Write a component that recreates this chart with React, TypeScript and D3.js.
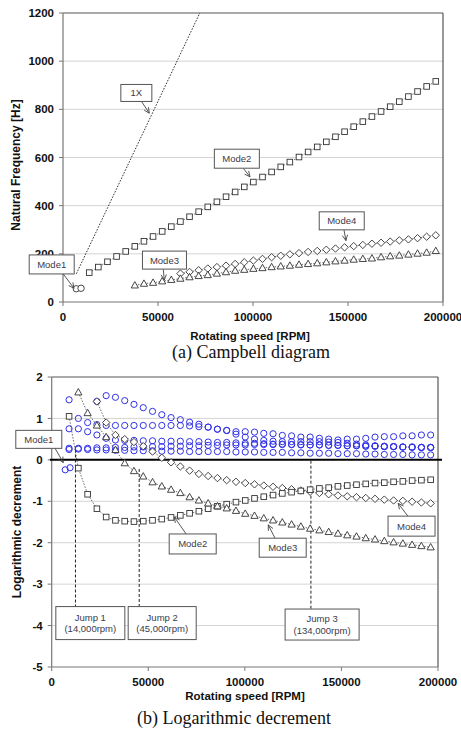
import * as d3 from "d3"

// rotor speed grid (rpm) shared by the computed points
const speeds = [9000, 13800, 18600, 23400, 28200, 33000, 37800, 42600, 47400, 52200, 57000, 61800, 66600, 71400, 76200, 81000, 85800, 90600, 95400, 100200, 105000, 109800, 114600, 119400, 124200, 129000, 133800, 138600, 143400, 148200, 153000, 157800, 162600, 167400, 172200, 177000, 181800, 186600, 191400, 196200]

// (a) Campbell diagram, natural frequency [Hz]
const mode1Speeds = [7000, 9500]
const mode1Freq = [55, 57]
const mode2Freq = [122, 145, 167, 189, 210, 231, 252, 272, 293, 313, 334, 354, 375, 395, 416, 437, 457, 478, 498, 519, 540, 561, 581, 602, 623, 644, 665, 686, 707, 728, 749, 770, 791, 811, 832, 853, 874, 895, 916]
const mode3Freq = [69, 76, 80, 86, 92, 97, 103, 108, 112, 118, 124, 130, 134, 138, 141, 145, 148, 151, 155, 158, 161, 165, 169, 172, 176, 179, 181, 186, 190, 193, 197, 201, 205, 212]
const mode4Freq = [118, 125, 132, 139, 145, 151, 158, 165, 172, 179, 186, 192, 198, 203, 208, 212, 217, 222, 227, 232, 237, 242, 246, 251, 256, 260, 265, 271, 277]
const oneXSpeeds = [7000, 72000]
const oneXFreq = [117, 1200]

// (b) logarithmic decrement
const mode1Dec = [-0.24, -0.19]
const mode2Dec = [1.05, -0.2, -0.83, -1.18, -1.38, -1.46, -1.48, -1.49, -1.48, -1.46, -1.43, -1.39, -1.34, -1.29, -1.24, -1.18, -1.12, -1.07, -1.02, -0.98, -0.93, -0.89, -0.85, -0.81, -0.78, -0.75, -0.72, -0.69, -0.67, -0.64, -0.62, -0.6, -0.58, -0.56, -0.55, -0.53, -0.52, -0.5, -0.49, -0.48]
const mode3Dec = [1.63, 1.13, 0.83, 0.55, 0.24, -0.08, -0.27, -0.4, -0.54, -0.64, -0.72, -0.8, -0.9, -0.98, -1.05, -1.12, -1.17, -1.23, -1.3, -1.35, -1.41, -1.46, -1.51, -1.56, -1.61, -1.66, -1.7, -1.74, -1.78, -1.82, -1.85, -1.89, -1.92, -1.96, -1.99, -2.02, -2.05, -2.08, -2.11]
const mode4Dec = [1.41, 0.9, 0.6, 0.5, 0.43, 0.33, 0.2, 0.05, -0.06, -0.16, -0.26, -0.34, -0.39, -0.44, -0.49, -0.53, -0.56, -0.59, -0.62, -0.65, -0.68, -0.71, -0.74, -0.77, -0.8, -0.83, -0.86, -0.88, -0.9, -0.92, -0.94, -0.96, -0.98, -0.99, -1.01, -1.03, -1.05]
// stable (blue) modes
const stableA = [1.41, 1.55, 1.51, 1.43, 1.34, 1.26, 1.17, 1.09, 1.02, 0.97, 0.91, 0.86, 0.79, 0.74, 0.71, 0.68, 0.68, 0.67, 0.64, 0.63, 0.59, 0.58, 0.55, 0.55, 0.52, 0.5, 0.48, 0.5, 0.5, 0.52, 0.55, 0.56, 0.56, 0.58, 0.58, 0.6, 0.6]
const stableB = [1.45, 1.0, 0.9, 0.85, 0.83, 0.83, 0.83, 0.83, 0.83, 0.83, 0.83, 0.83, 0.83, 0.82, 0.8, 0.79, 0.74, 0.71, 0.62, 0.55, 0.5, 0.47, 0.45, 0.44, 0.44, 0.44, 0.44, 0.44, 0.43, 0.42, 0.4, 0.38, 0.36, 0.34, 0.33, 0.32, 0.31, 0.3, 0.3, 0.3]
const stableC = [0.75, 0.75, 0.68, 0.6, 0.52, 0.48, 0.47, 0.47, 0.46, 0.46, 0.45, 0.45, 0.45, 0.44, 0.44, 0.43, 0.42, 0.42, 0.41, 0.4, 0.4, 0.39, 0.38, 0.38, 0.37, 0.37, 0.36, 0.36, 0.35, 0.35, 0.34, 0.34, 0.33, 0.33, 0.32, 0.32, 0.31, 0.31, 0.3, 0.3]
const stableD = [0.28, 0.28, 0.28, 0.29, 0.29, 0.3, 0.3, 0.31, 0.31, 0.32, 0.32, 0.33, 0.33, 0.34, 0.34, 0.35, 0.35, 0.36, 0.36, 0.36, 0.37, 0.37, 0.37, 0.37, 0.37, 0.36, 0.36, 0.36, 0.35, 0.35, 0.34, 0.34, 0.33, 0.33, 0.32, 0.32, 0.31, 0.31, 0.3, 0.3]
const stableE = [0.25, 0.26, 0.25, 0.24, 0.24, 0.23, 0.23, 0.22, 0.22, 0.22, 0.21, 0.21, 0.21, 0.2, 0.2, 0.2, 0.2, 0.2, 0.19, 0.19, 0.19, 0.18, 0.18, 0.18, 0.17, 0.17, 0.16, 0.16, 0.16, 0.15, 0.15, 0.15, 0.14, 0.14, 0.13, 0.13, 0.13, 0.12, 0.12, 0.12]

const jumpSpeeds = [12300, 45300, 134200]
const jumpTops = [0.25, -0.22, -0.02]
const jumpTitles = ["Jump  1", "Jump  2", "Jump  3"]
const jumpRpm = ["(14,000rpm)", "(45,000rpm)", "(134,000rpm)"]

const freqTicks = [0, 200, 400, 600, 800, 1000, 1200]
const decTicks = [2, 1, 0, -1, -2, -3, -4, -5]
const speedTicks = [0, 50000, 100000, 150000, 200000]

const SANS = "'Liberation Sans', Arial, sans-serif"
const SERIF = "'Liberation Serif', 'Times New Roman', serif"
const BLUE = "#3030e8"
const INK = "#333"

type Pt = [number, number]
const from = (start: number, vals: number[]): Pt[] => vals.map((v, i) => [speeds[start + i], v])

function Marker({ shape, x, y }: { shape: string; x: number; y: number }) {
  if (shape === "square") return <rect x={x - 2.8} y={y - 2.8} width={5.6} height={5.6} fill="#fff" stroke={INK} strokeWidth={0.9} />
  if (shape === "triangle") return <path d={`M${x},${y - 3.8}L${x + 3.6},${y + 2.6}L${x - 3.6},${y + 2.6}Z`} fill="#fff" stroke={INK} strokeWidth={0.9} />
  if (shape === "diamond") return <path d={`M${x},${y - 3.7}L${x + 3.7},${y}L${x},${y + 3.7}L${x - 3.7},${y}Z`} fill="#fff" stroke={INK} strokeWidth={0.9} />
  if (shape === "ocircle") return <circle cx={x} cy={y} r={3.2} fill="#fff" stroke={INK} strokeWidth={0.9} />
  return <circle cx={x} cy={y} r={3.1} fill="none" stroke={BLUE} strokeWidth={1} />
}

function Series({ pts, shape, xs, ys, line }: { pts: Pt[]; shape: string; xs: any; ys: any; line?: boolean }) {
  const gen = d3.line<Pt>().x(d => xs(d[0])).y(d => ys(d[1]))
  return (
    <g>
      {line && <path d={gen(pts) || ""} fill="none" stroke="#444" strokeWidth={0.8} strokeDasharray="1.5,1.5" />}
      {pts.map((d, i) => <Marker key={i} shape={shape} x={xs(d[0])} y={ys(d[1])} />)}
    </g>
  )
}

function Arrow({ x1, y1, x2, y2 }: { x1: number; y1: number; x2: number; y2: number }) {
  const a = Math.atan2(y2 - y1, x2 - x1)
  const L = 6, s = 0.45
  const p1 = [x2 - L * Math.cos(a - s), y2 - L * Math.sin(a - s)]
  const p2 = [x2 - L * Math.cos(a + s), y2 - L * Math.sin(a + s)]
  return (
    <g stroke="#444" strokeWidth={0.9} fill="none">
      <line x1={x1} y1={y1} x2={x2} y2={y2} />
      <path d={`M${p1[0]},${p1[1]}L${x2},${y2}L${p2[0]},${p2[1]}`} />
    </g>
  )
}

function Label({ cx, cy, w, h, lines, size = 9.5 }: { cx: number; cy: number; w: number; h: number; lines: string[]; size?: number }) {
  const lh = size * 1.2
  return (
    <g>
      <rect x={cx - w / 2} y={cy - h / 2} width={w} height={h} fill="#fff" stroke="#555" strokeWidth={1} />
      {lines.map((t, i) => (
        <text key={i} x={cx} y={cy + (i - (lines.length - 1) / 2) * lh} dy="0.36em" textAnchor="middle" fontSize={size} fontFamily={SANS} fill="#3a3a4a">{t}</text>
      ))}
    </g>
  )
}

function Frame({ xs, ys, yTicks, gridVals, left, right, top, bottom }: any) {
  return (
    <g fontFamily={SANS} fontWeight="bold" fontSize={11.5} fill="#111">
      {gridVals.map((v: number) => <line key={v} x1={left} x2={right} y1={ys(v)} y2={ys(v)} stroke="#d4d4d4" strokeWidth={1} />)}
      <line x1={left} x2={right} y1={top} y2={top} stroke="#555" strokeWidth={1.2} />
      <line x1={right} x2={right} y1={top} y2={bottom} stroke="#555" strokeWidth={1.2} />
      <line x1={left} x2={left} y1={top} y2={bottom} stroke="#777" strokeWidth={1.2} />
      <line x1={left} x2={right} y1={bottom} y2={bottom} stroke="#777" strokeWidth={1.2} />
      {yTicks.map((v: number) => (
        <g key={v}>
          <line x1={left - 4} x2={left} y1={ys(v)} y2={ys(v)} stroke="#777" />
          <text x={left - 9} y={ys(v)} dy="0.36em" textAnchor="end">{v}</text>
        </g>
      ))}
      {speedTicks.map(v => (
        <g key={v}>
          <line x1={xs(v)} x2={xs(v)} y1={bottom} y2={bottom + 4} stroke="#777" />
          <text x={xs(v)} y={bottom + 18.5} textAnchor="middle">{v}</text>
        </g>
      ))}
    </g>
  )
}

export default function App() {
  // (a) Campbell diagram
  const ax = d3.scaleLinear().domain([0, 200000]).range([63, 443])
  const ay = d3.scaleLinear().domain([0, 1200]).range([302, 13])
  // (b) log decrement
  const bx = d3.scaleLinear().domain([0, 200000]).range([51.7, 438])
  const by = d3.scaleLinear().domain([-5, 2]).range([667, 377])

  const oneX = d3.line<number>().x(d => ax(oneXSpeeds[d])).y(d => ay(oneXFreq[d]))

  return (
    <svg width={461} height={731} style={{ position: "absolute", left: 0, top: 0, background: "#fff" }}>
      {/* ---- (a) ---- */}
      <Frame xs={ax} ys={ay} yTicks={freqTicks} gridVals={[200, 400, 600, 800, 1000]} left={63} right={443} top={13} bottom={302} />
      <path d={oneX([0, 1]) || ""} stroke="#333" strokeWidth={1} strokeDasharray="1.6,1.4" fill="none" />
      <Series pts={mode1Speeds.map((s, i) => [s, mode1Freq[i]] as Pt)} shape="ocircle" xs={ax} ys={ay} />
      <Series pts={from(1, mode2Freq)} shape="square" xs={ax} ys={ay} line />
      <Series pts={from(11, mode4Freq)} shape="diamond" xs={ax} ys={ay} line />
      <Series pts={from(6, mode3Freq)} shape="triangle" xs={ax} ys={ay} line />

      <Arrow x1={ax(41400)} y1={ay(832)} x2={ax(45400)} y2={ay(784)} />
      <Label cx={ax(38600)} cy={ay(868)} w={31} h={17} lines={["1X"]} />
      <Arrow x1={ax(94900)} y1={ay(555)} x2={ax(98400)} y2={ay(520)} />
      <Label cx={ax(91500)} cy={ay(595)} w={45} h={19} lines={["Mode2"]} />
      <Arrow x1={ax(160)} y1={ay(116)} x2={ax(5800)} y2={ay(57)} />
      <Label cx={ax(-5950)} cy={ay(156)} w={45} h={19} lines={["Mode1"]} />
      <Arrow x1={ax(52800)} y1={ay(136)} x2={ax(53300)} y2={ay(91)} />
      <Label cx={ax(53400)} cy={ay(174)} w={44} h={18} lines={["Mode3"]} />
      <Arrow x1={ax(147900)} y1={ay(299)} x2={ax(148900)} y2={ay(255)} />
      <Label cx={ax(146700)} cy={ay(337)} w={45} h={18} lines={["Mode4"]} />

      <text x={16} y={165} transform="rotate(-90 16 165)" textAnchor="middle" dominantBaseline="central" fontFamily={SANS} fontWeight="bold" fontSize={12} fill="#111">Natural Frequency [Hz]</text>
      <text x={250} y={339.5} textAnchor="middle" fontFamily={SANS} fontWeight="bold" fontSize={11.5} fill="#111">Rotating speed [RPM]</text>
      <text x={251} y={358} textAnchor="middle" fontFamily={SERIF} fontSize={18} fill="#111">(a) Campbell diagram</text>

      {/* ---- (b) ---- */}
      <Frame xs={bx} ys={by} yTicks={decTicks} gridVals={[1, -1, -2, -3, -4]} left={51.7} right={438} top={377} bottom={667} />
      <line x1={50} x2={442} y1={by(0)} y2={by(0)} stroke="#000" strokeWidth={2} />

      {jumpSpeeds.map((s, i) => (
        <line key={i} x1={bx(s)} x2={bx(s)} y1={by(jumpTops[i])} y2={by(-3.6)} stroke="#222" strokeWidth={1} strokeDasharray="3,2" />
      ))}

      <Series pts={from(3, stableA)} shape="bcircle" xs={bx} ys={by} />
      <Series pts={from(0, stableB)} shape="bcircle" xs={bx} ys={by} />
      <Series pts={from(0, stableC)} shape="bcircle" xs={bx} ys={by} />
      <Series pts={from(0, stableD)} shape="bcircle" xs={bx} ys={by} />
      <Series pts={from(0, stableE)} shape="bcircle" xs={bx} ys={by} />
      <Series pts={mode1Speeds.map((s, i) => [s, mode1Dec[i]] as Pt)} shape="bcircle" xs={bx} ys={by} />

      <Series pts={from(3, mode4Dec)} shape="diamond" xs={bx} ys={by} line />
      <Series pts={from(0, mode2Dec)} shape="square" xs={bx} ys={by} line />
      <Series pts={from(1, mode3Dec)} shape="triangle" xs={bx} ys={by} line />

      <Arrow x1={bx(1700)} y1={by(0.28)} x2={bx(6000)} y2={by(-0.065)} />
      <Label cx={bx(-6680)} cy={by(0.495)} w={46} h={18} lines={["Mode1"]} />
      <Arrow x1={bx(69900)} y1={by(-1.81)} x2={bx(63500)} y2={by(-1.38)} />
      <Label cx={bx(73000)} cy={by(-2.03)} w={47} h={20} lines={["Mode2"]} />
      <Arrow x1={bx(115600)} y1={by(-1.89)} x2={bx(112100)} y2={by(-1.57)} />
      <Label cx={bx(119600)} cy={by(-2.12)} w={47} h={19} lines={["Mode3"]} />
      <Arrow x1={bx(184600)} y1={by(-1.37)} x2={bx(179400)} y2={by(-1.05)} />
      <Label cx={bx(186300)} cy={by(-1.6)} w={47} h={20} lines={["Mode4"]} />

      <Label cx={bx(20000)} cy={by(-3.94)} w={69} h={33} lines={[jumpTitles[0], jumpRpm[0]]} />
      <Label cx={bx(57200)} cy={by(-3.94)} w={68} h={33} lines={[jumpTitles[1], jumpRpm[1]]} />
      <Label cx={bx(140000)} cy={by(-3.975)} w={74} h={31} lines={[jumpTitles[2], jumpRpm[2]]} />

      <text x={17} y={532} transform="rotate(-90 17 532)" textAnchor="middle" dominantBaseline="central" fontFamily={SANS} fontWeight="bold" fontSize={12} fill="#111">Logarithmic decrement</text>
      <text x={245} y={700} textAnchor="middle" fontFamily={SANS} fontWeight="bold" fontSize={11.5} fill="#111">Rotating speed [RPM]</text>
      <text x={234} y={724} textAnchor="middle" fontFamily={SERIF} fontSize={18} fill="#111">(b) Logarithmic decrement</text>
    </svg>
  )
}
